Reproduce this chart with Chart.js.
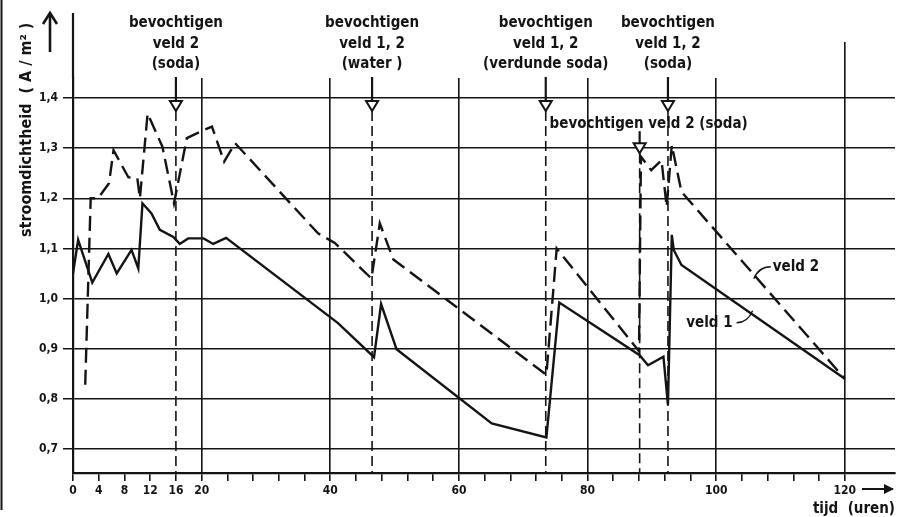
<!DOCTYPE html>
<html>
<head>
<meta charset="utf-8">
<script src="https://cdn.jsdelivr.net/npm/chart.js@4.4.1/dist/chart.umd.min.js"></script>
<style>
  html, body { margin: 0; padding: 0; background: #fff; }
  #wrap { width: 906px; height: 517px; }
</style>
</head>
<body>
<div id="wrap"><canvas id="chart" width="906" height="517"></canvas></div>
<script>
// tijd (uren) and stroomdichtheid (A/m2)
const veld1Hours = [0, 0.8, 3.0, 5.5, 6.8, 9.1, 10.15, 10.8, 12.2, 13.5, 15.6, 16.6, 17.9, 20.3, 21.8, 23.8,
  41.2, 46.8, 47.9, 50.3, 65.1, 73.6, 75.6, 88.1, 89.4, 91.8, 92.5, 93.1, 93.4, 94.6, 120];
const veld1Values = [1.05, 1.117, 1.032, 1.089, 1.05, 1.097, 1.06, 1.19, 1.17, 1.137, 1.123, 1.109, 1.12, 1.12, 1.109, 1.121,
  0.951, 0.883, 0.989, 0.899, 0.751, 0.723, 0.992, 0.887, 0.867, 0.884, 0.788, 1.127, 1.097, 1.067, 0.84];

const veld2Hours = [1.9, 2.75, 3.9, 5.6, 6.3, 8.6, 10.0, 10.4, 11.6, 13.9, 15.7, 17.7, 20.3, 21.6, 23.5, 25.2,
  38.1, 40.7, 46.4, 47.7, 49.8, 73.6, 75.2, 88.0, 88.3, 89.9, 91.5, 92.3, 93.1, 94.6, 120];
const veld2Values = [0.828, 1.2, 1.2, 1.23, 1.296, 1.242, 1.24, 1.2, 1.369, 1.303, 1.19, 1.32, 1.336, 1.343, 1.273, 1.31,
  1.13, 1.111, 1.04, 1.15, 1.078, 0.848, 1.1, 0.895, 1.283, 1.256, 1.276, 1.183, 1.306, 1.213, 0.84];

const seriesNames = ["veld 1", "veld 2"];
const nameAtHour = [105.5, 106];

// bevochtigen events
const eventHours = [16, 46.5, 73.5, 88.1, 92.5];
const eventLabels = [
  ["bevochtigen", "veld 2", "(soda)"],
  ["bevochtigen", "veld 1, 2", "(water )"],
  ["bevochtigen", "veld 1, 2", "(verdunde soda)"],
  ["bevochtigen veld 2 (soda)"],
  ["bevochtigen", "veld 1, 2", "(soda)"]
];
const arrowTips = [1.374, 1.374, 1.374, 1.29, 1.374];

const yTicks = [0.7, 0.8, 0.9, 1.0, 1.1, 1.2, 1.3, 1.4];
const xTicks = [0, 4, 8, 12, 16, 20, 24, 28, 32, 36, 40, 44, 48, 52, 56, 60, 64, 68, 72, 76, 80,
  84, 88, 92, 96, 100, 104, 108, 112, 116, 120];
const xLabelled = [0, 4, 8, 12, 16, 20, 40, 60, 80, 100, 120];
const xGridAt = [20, 40, 60, 80, 100, 120];

const ink = "#141414";
const fam = "'DejaVu Sans Condensed', 'DejaVu Sans', sans-serif";

function valueAt(hours, values, h) {
  for (let i = 1; i < hours.length; i++) {
    if (h <= hours[i]) {
      const f = (h - hours[i - 1]) / (hours[i] - hours[i - 1]);
      return values[i - 1] + f * (values[i] - values[i - 1]);
    }
  }
  return values[values.length - 1];
}

function line(ctx, x1, y1, x2, y2) {
  ctx.beginPath();
  ctx.moveTo(x1, y1);
  ctx.lineTo(x2, y2);
  ctx.stroke();
}

const sketch = {
  id: "sketch",
  beforeDatasetsDraw(chart) {
    const { ctx, chartArea, scales: { x, y } } = chart;
    ctx.save();
    ctx.strokeStyle = ink;
    ctx.lineWidth = 1.6;
    ctx.setLineDash([10, 5]);
    eventHours.forEach((h, i) => {
      const px = x.getPixelForValue(h);
      line(ctx, px, y.getPixelForValue(arrowTips[i]), px, chartArea.bottom);
    });
    ctx.restore();
  },
  afterDraw(chart) {
    const { ctx, chartArea, scales: { x, y } } = chart;
    ctx.save();
    ctx.strokeStyle = ink;
    ctx.fillStyle = ink;

    // page edge
    ctx.lineWidth = 2;
    line(ctx, 1.5, 0, 1.5, 510);

    // y axis runs up past the plot, 120 h line too
    const x0 = x.getPixelForValue(0);
    ctx.lineWidth = 2.2;
    line(ctx, x0, chartArea.top, x0, 13);
    ctx.lineWidth = 1.6;
    const x120 = x.getPixelForValue(120);
    line(ctx, x120, chartArea.top, x120, 42);

    // event arrows and texts
    ctx.font = "bold 15px " + fam;
    ctx.textAlign = "center";
    ctx.textBaseline = "alphabetic";
    eventHours.forEach((h, i) => {
      const px = x.getPixelForValue(h);
      const tip = y.getPixelForValue(arrowTips[i]);
      const lines = eventLabels[i];
      let shaftTop;
      if (lines.length > 1) {
        lines.forEach((t, k) => ctx.fillText(t, px, 27 + k * 20.5));
        shaftTop = 77;
      } else {
        ctx.fillText(lines[0], px + 9, tip - 25);
        shaftTop = tip - 22;
      }
      ctx.lineWidth = 2.2;
      line(ctx, px, shaftTop, px, tip - 9);
      ctx.beginPath();
      ctx.moveTo(px - 6, tip - 10);
      ctx.lineTo(px + 6, tip - 10);
      ctx.lineTo(px, tip);
      ctx.closePath();
      ctx.fillStyle = "#fff";
      ctx.fill();
      ctx.lineWidth = 2;
      ctx.stroke();
      ctx.fillStyle = ink;
    });

    // series names with leaders
    const p2x = x.getPixelForValue(nameAtHour[1]);
    const p2y = y.getPixelForValue(valueAt(veld2Hours, veld2Values, nameAtHour[1]));
    const p1x = x.getPixelForValue(nameAtHour[0]);
    const p1y = y.getPixelForValue(valueAt(veld1Hours, veld1Values, nameAtHour[0]));
    ctx.lineWidth = 1.4;
    ctx.beginPath();
    ctx.moveTo(p2x - 1, p2y + 3);
    ctx.quadraticCurveTo(p2x + 4, p2y - 9, p2x + 16, p2y - 9);
    ctx.stroke();
    ctx.beginPath();
    ctx.moveTo(p1x + 1, p1y - 3);
    ctx.quadraticCurveTo(p1x - 4, p1y + 9, p1x - 15, p1y + 9);
    ctx.stroke();
    ctx.textAlign = "left";
    ctx.textBaseline = "middle";
    ctx.fillText(seriesNames[1], p2x + 18, p2y - 9);
    ctx.textAlign = "right";
    ctx.fillText(seriesNames[0], p1x - 19, p1y + 9);

    // y title, rotated, with up arrow
    ctx.save();
    ctx.translate(27, 237);
    ctx.rotate(-Math.PI / 2);
    ctx.font = "bold 16px " + fam;
    ctx.textAlign = "left";
    ctx.textBaseline = "middle";
    ctx.fillText("stroomdichtheid  ( A / m² )", 0, 0);
    ctx.restore();
    ctx.lineWidth = 2.6;
    line(ctx, 50, 52, 50, 15);
    ctx.beginPath();
    ctx.moveTo(43, 24);
    ctx.lineTo(50, 13);
    ctx.lineTo(57, 24);
    ctx.stroke();

    // x title with arrow
    ctx.lineWidth = 2;
    line(ctx, 862, 489, 893, 489);
    ctx.beginPath();
    ctx.moveTo(884, 484);
    ctx.lineTo(894, 489);
    ctx.lineTo(884, 494);
    ctx.closePath();
    ctx.fill();
    ctx.textAlign = "right";
    ctx.textBaseline = "alphabetic";
    ctx.fillText("tijd  (uren)", 895, 513);

    ctx.restore();
  }
};

new Chart(document.getElementById("chart"), {
  type: "line",
  plugins: [sketch],
  data: {
    datasets: [
      {
        label: seriesNames[0],
        data: veld1Hours.map((h, i) => ({ x: h, y: veld1Values[i] })),
        borderColor: ink,
        borderWidth: 2.4,
        pointRadius: 0,
        tension: 0
      },
      {
        label: seriesNames[1],
        data: veld2Hours.map((h, i) => ({ x: h, y: veld2Values[i] })),
        borderColor: ink,
        borderWidth: 2.4,
        borderDash: [15, 7],
        pointRadius: 0,
        tension: 0
      }
    ]
  },
  options: {
    responsive: false,
    animation: false,
    devicePixelRatio: 1,
    layout: { padding: { top: 78, right: 11, left: 0, bottom: 0 } },
    plugins: { legend: { display: false }, tooltip: { enabled: false } },
    scales: {
      x: {
        type: "linear",
        min: 0,
        max: 127.8,
        afterBuildTicks: s => { s.ticks = xTicks.map(v => ({ value: v })); },
        afterFit: s => { s.height = 44; },
        ticks: {
          autoSkip: false,
          maxRotation: 0,
          padding: 3,
          color: ink,
          font: { family: fam, size: 12, weight: "bold" },
          callback: v => xLabelled.includes(v) ? String(v) : ""
        },
        grid: {
          color: c => (c.tick && xGridAt.includes(c.tick.value)) ? ink : "rgba(0,0,0,0)",
          tickColor: ink,
          tickLength: 8,
          lineWidth: 1.6
        },
        border: { color: ink, width: 2.2 }
      },
      y: {
        min: 0.652,
        max: 1.44,
        afterBuildTicks: s => { s.ticks = yTicks.map(v => ({ value: v })); },
        afterFit: s => { s.width = 73; },
        ticks: {
          padding: 5,
          color: ink,
          font: { family: fam, size: 12, weight: "bold" },
          callback: v => v.toFixed(1).replace(".", ",")
        },
        grid: { color: ink, tickLength: 10, lineWidth: 1.5 },
        border: { color: ink, width: 2.2 }
      }
    }
  }
});
</script>
</body>
</html>
